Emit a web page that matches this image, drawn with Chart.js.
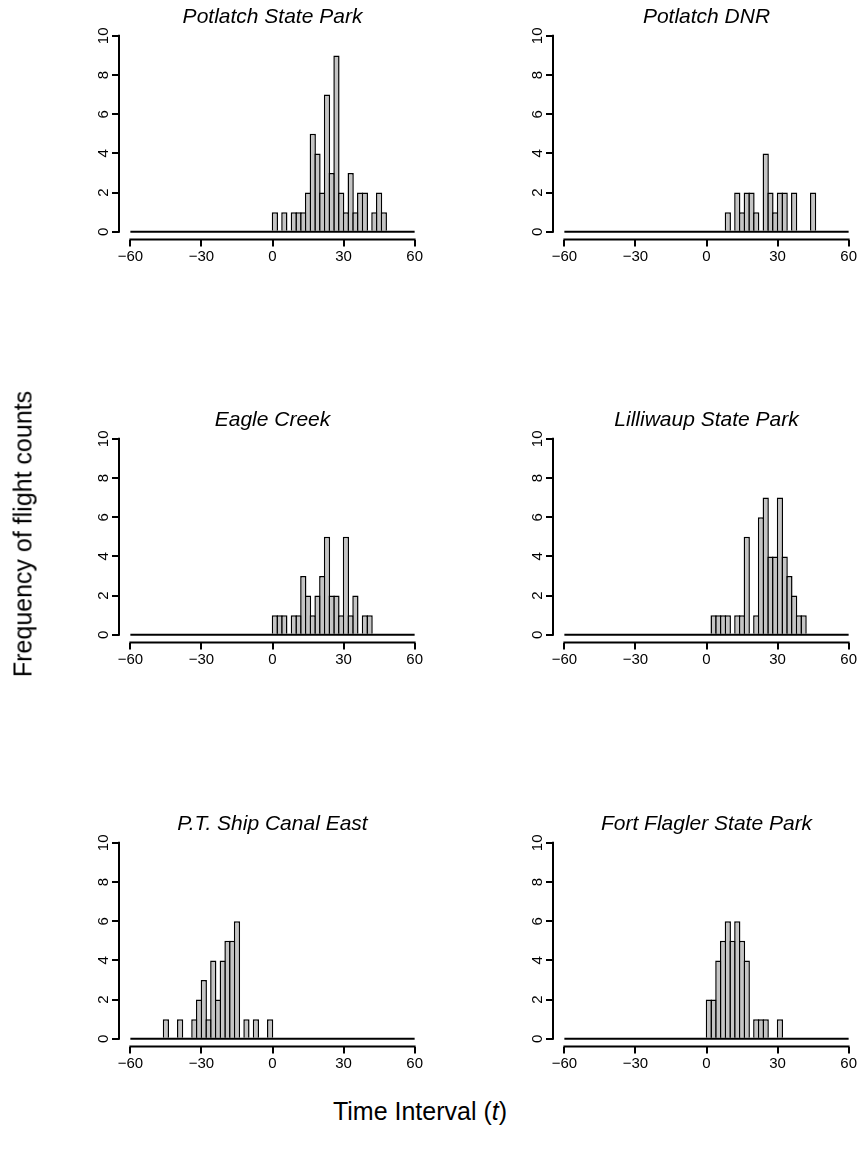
<!DOCTYPE html>
<html>
<head>
<meta charset="utf-8">
<script src="https://cdn.jsdelivr.net/npm/chart.js@4/dist/chart.umd.min.js"></script>
<style>
  html, body { margin:0; padding:0; background:#fff; }
  body { width:858px; height:1153px; position:relative; overflow:hidden; font-family:"Liberation Sans", Arial, sans-serif; }
  canvas { position:absolute; }
  .ytitle { position:absolute; left:23px; top:534px; transform:translate(-50%,-50%) rotate(-90deg); white-space:nowrap; font-size:25px; color:#000; }
  .xtitle { position:absolute; left:420px; top:1111px; transform:translate(-50%,-50%); white-space:nowrap; font-size:25px; color:#000; }
</style>
</head>
<body>
<canvas id="c1" width="426" height="280" style="left:0px;top:0px"></canvas>
<canvas id="c2" width="426" height="280" style="left:434px;top:0px"></canvas>
<canvas id="c3" width="426" height="280" style="left:0px;top:403px"></canvas>
<canvas id="c4" width="426" height="280" style="left:434px;top:403px"></canvas>
<canvas id="c5" width="426" height="280" style="left:0px;top:807px"></canvas>
<canvas id="c6" width="426" height="280" style="left:434px;top:807px"></canvas>
<div class="ytitle">Frequency of flight counts</div>
<div class="xtitle">Time Interval (<i>t</i>)</div>
<script>
// ---- data (histogram counts, bins of width 2) ----
const binWidth = 2;
const xTicks = [-60, -30, 0, 30, 60];
const yTicks = [0, 2, 4, 6, 8, 10];

const titles = ["Potlatch State Park", "Potlatch DNR", "Eagle Creek",
                "Lilliwaup State Park", "P.T. Ship Canal East", "Fort Flagler State Park"];

// first bin left edge for each site
const potlatchSPStart = 0;
const potlatchSPCounts = [1,0,1,0,1,1,1,2,5,4,2,7,3,9,2,1,3,1,2,2,0,1,2,1];

const potlatchDNRStart = 8;
const potlatchDNRCounts = [1,0,2,1,2,2,1,0,4,2,1,2,2,0,2,0,0,0,2];

const eagleCreekStart = 0;
const eagleCreekCounts = [1,1,1,0,1,1,3,2,1,2,3,5,2,2,1,5,1,2,0,1,1];

const lilliwaupStart = 2;
const lilliwaupCounts = [1,1,1,1,0,1,1,5,0,1,6,7,4,4,7,4,3,2,1,1];

const ptShipStart = -46;
const ptShipCounts = [1,0,0,1,0,0,1,2,3,1,4,2,4,5,5,6,0,1,0,1,0,0,1];

const fortFlaglerStart = 0;
const fortFlaglerCounts = [2,2,4,5,6,5,6,5,4,0,1,1,1,0,0,1];

// ---- drawing ----
const FONT = "'Liberation Sans', Arial, sans-serif";
const fmt = v => (v < 0 ? "\u2212" + Math.abs(v) : String(v));

const axisLines = {
  id: 'axisLines',
  afterDatasetsDraw(chart) {
    const { ctx, chartArea, scales: { x, y } } = chart;
    ctx.save();
    ctx.strokeStyle = '#000';
    ctx.lineWidth = 2;
    ctx.lineCap = 'square';
    ctx.beginPath();
    ctx.moveTo(x.getPixelForValue(xTicks[0]), chartArea.bottom);
    ctx.lineTo(x.getPixelForValue(xTicks[xTicks.length - 1]), chartArea.bottom);
    ctx.moveTo(chartArea.left, y.getPixelForValue(yTicks[0]));
    ctx.lineTo(chartArea.left, y.getPixelForValue(yTicks[yTicks.length - 1]));
    ctx.stroke();
    ctx.restore();
  }
};

function panel(id, title, start, counts) {
  const bars = counts.map((c, i) => ({ x: start + binWidth * i + binWidth / 2, y: c }));
  const xr = (xTicks[xTicks.length - 1] - xTicks[0]) * 0.04;
  const yr = (yTicks[yTicks.length - 1] - yTicks[0]) * 0.04;
  new Chart(document.getElementById(id), {
    type: 'bar',
    data: {
      datasets: [
        { type: 'line', data: [{ x: xTicks[0], y: 0 }, { x: xTicks[xTicks.length - 1], y: 0 }],
          borderColor: '#000', borderWidth: 1.8, pointRadius: 0, order: 0 },
        { type: 'bar', data: bars, backgroundColor: '#c4c4c4', borderColor: '#000',
          borderWidth: 1.5, borderSkipped: 'start', barPercentage: 1.32, categoryPercentage: 1, order: 1 }
      ]
    },
    options: {
      responsive: false, animation: false, devicePixelRatio: 1,
      layout: { padding: 0 },
      plugins: {
        legend: { display: false }, tooltip: { enabled: false },
        title: { display: true, text: title, color: '#000', fullSize: false, align: 'center',
          font: { family: FONT, size: 21, style: 'italic', weight: 'normal', lineHeight: 1 },
          padding: { top: 7, bottom: 0 } }
      },
      scales: {
        x: {
          type: 'linear', min: xTicks[0] - xr, max: xTicks[xTicks.length - 1] + xr, offset: false,
          afterBuildTicks: s => { s.ticks = xTicks.map(v => ({ value: v })); },
          afterFit: s => { s.height = 40.4; s.paddingLeft = 0; s.paddingRight = 0; },
          grid: { offset: false, drawOnChartArea: false, drawTicks: true, tickLength: 7, color: '#000', lineWidth: 2 },
          border: { display: false },
          ticks: { autoSkip: false, minRotation: 0, maxRotation: 0, padding: 1, color: '#000',
            font: { family: FONT, size: 15 }, callback: v => fmt(v) }
        },
        y: {
          type: 'linear', min: yTicks[0] - yr, max: yTicks[yTicks.length - 1] + yr,
          afterBuildTicks: s => { s.ticks = yTicks.map(v => ({ value: v })); },
          afterFit: s => { s.width = 119; s.paddingTop = 0; s.paddingBottom = 0; },
          grid: { offset: false, drawOnChartArea: false, drawTicks: true, tickLength: 7, color: '#000', lineWidth: 2 },
          border: { display: false },
          ticks: { autoSkip: false, minRotation: 90, maxRotation: 90, crossAlign: 'center', padding: 0,
            color: '#000', font: { family: FONT, size: 15 }, callback: v => fmt(v) }
        }
      }
    },
    plugins: [axisLines]
  });
}

panel('c1', titles[0], potlatchSPStart, potlatchSPCounts);
panel('c2', titles[1], potlatchDNRStart, potlatchDNRCounts);
panel('c3', titles[2], eagleCreekStart, eagleCreekCounts);
panel('c4', titles[3], lilliwaupStart, lilliwaupCounts);
panel('c5', titles[4], ptShipStart, ptShipCounts);
panel('c6', titles[5], fortFlaglerStart, fortFlaglerCounts);
</script>
</body>
</html>
